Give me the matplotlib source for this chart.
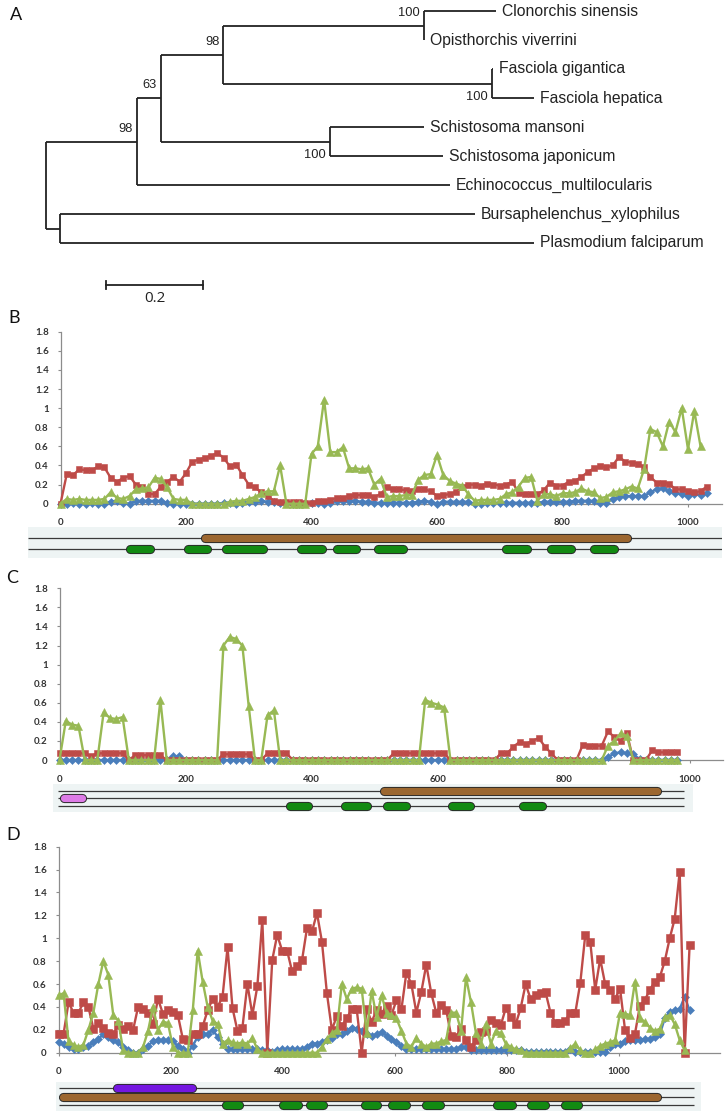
import numpy as np
import matplotlib
matplotlib.use("Agg")
import matplotlib.pyplot as plt
from matplotlib import patheffects as pe

# ---------------- data ----------------
# Panel A: phylogenetic tree (distances from root)
leaf_names = ["Clonorchis sinensis", "Opisthorchis viverrini", "Fasciola gigantica",
              "Fasciola hepatica", "Schistosoma mansoni", "Schistosoma japonicum",
              "Echinococcus_multilocularis", "Bursaphelenchus_xylophilus",
              "Plasmodium falciparum"]
leaf_depth = [0.928, 0.781, 0.922, 1.007, 0.781, 0.820, 0.834, 0.886, 1.007]
node_names = ["CO", "FAS", "U98", "SCH", "N63", "L98", "BP", "ROOT"]
node_depth = [0.780, 0.920, 0.367, 0.586, 0.238, 0.189, 0.030, 0.000]
node_children = [[0, 1], [2, 3], ["CO", "FAS"], [4, 5], ["U98", "SCH"],
                 ["N63", 6], [7, 8], ["L98", "BP"]]
node_support = [100, 100, 98, 100, 63, 98, None, None]
support_side = ["above", "below", "above", "below", "above", "above", None, None]
scale_len = 0.2

# Panel B
red_b = [0.00, 0.31, 0.30, 0.36, 0.35, 0.35, 0.39, 0.38, 0.27, 0.23,
         0.27, 0.29, 0.20, 0.18, 0.10, 0.10, 0.18, 0.23, 0.28, 0.23,
         0.32, 0.44, 0.46, 0.48, 0.50, 0.53, 0.48, 0.39, 0.41, 0.30,
         0.20, 0.17, 0.12, 0.08, 0.03, 0.02, 0.02, 0.02, 0.02, 0.01,
         0.01, 0.03, 0.03, 0.04, 0.06, 0.06, 0.08, 0.09, 0.09, 0.09,
         0.07, 0.10, 0.17, 0.15, 0.15, 0.14, 0.13, 0.15, 0.15, 0.13,
         0.08, 0.09, 0.10, 0.12, 0.17, 0.20, 0.20, 0.19, 0.21, 0.20,
         0.19, 0.20, 0.23, 0.11, 0.10, 0.10, 0.10, 0.14, 0.22, 0.19,
         0.19, 0.23, 0.24, 0.28, 0.33, 0.37, 0.39, 0.38, 0.40, 0.49,
         0.44, 0.43, 0.42, 0.38, 0.28, 0.22, 0.22, 0.21, 0.15, 0.15,
         0.13, 0.12, 0.13, 0.18]
green_b = [0.00, 0.05, 0.04, 0.05, 0.04, 0.04, 0.04, 0.05, 0.12, 0.06,
           0.05, 0.08, 0.15, 0.16, 0.17, 0.27, 0.26, 0.17, 0.05, 0.04,
           0.04, 0.00, 0.00, 0.00, 0.00, 0.00, 0.00, 0.02, 0.03, 0.03,
           0.05, 0.07, 0.11, 0.13, 0.13, 0.40, 0.00, 0.00, 0.00, 0.00,
           0.52, 0.60, 1.09, 0.54, 0.54, 0.59, 0.37, 0.37, 0.36, 0.37,
           0.20, 0.26, 0.07, 0.08, 0.08, 0.09, 0.09, 0.25, 0.30, 0.31,
           0.51, 0.30, 0.24, 0.21, 0.19, 0.10, 0.03, 0.04, 0.04, 0.04,
           0.05, 0.10, 0.12, 0.18, 0.27, 0.28, 0.03, 0.10, 0.10, 0.08,
           0.11, 0.11, 0.12, 0.16, 0.13, 0.12, 0.06, 0.07, 0.12, 0.13,
           0.15, 0.18, 0.16, 0.36, 0.78, 0.75, 0.60, 0.86, 0.75, 1.00,
           0.57, 0.97, 0.60]
blue_b = [0.00, 0.00, 0.01, 0.00, 0.00, 0.01, 0.00, 0.00, 0.02, 0.03,
          0.01, 0.00, 0.03, 0.03, 0.03, 0.03, 0.03, 0.01, 0.00, 0.00,
          0.00, 0.00, 0.00, 0.00, 0.00, 0.00, 0.01, 0.01, 0.00, 0.01,
          0.02, 0.02, 0.03, 0.02, 0.02, 0.01, 0.01, 0.00, 0.00, 0.01,
          0.01, 0.01, 0.00, 0.01, 0.03, 0.03, 0.03, 0.03, 0.02, 0.02,
          0.01, 0.01, 0.01, 0.01, 0.01, 0.01, 0.01, 0.02, 0.03, 0.02,
          0.00, 0.02, 0.02, 0.02, 0.02, 0.02, 0.00, 0.00, 0.01, 0.01,
          0.01, 0.01, 0.01, 0.01, 0.01, 0.01, 0.01, 0.02, 0.02, 0.02,
          0.02, 0.02, 0.03, 0.03, 0.03, 0.03, 0.01, 0.01, 0.05, 0.07,
          0.08, 0.08, 0.08, 0.08, 0.12, 0.15, 0.16, 0.13, 0.11, 0.10,
          0.08, 0.10, 0.09, 0.11]

# Panel C
red_c = [0.07, 0.07, 0.07, 0.07, 0.07, 0.04, 0.07, 0.07, 0.07, 0.07,
         0.07, 0.00, 0.05, 0.05, 0.05, 0.05, 0.05, 0.00, 0.00, 0.00,
         0.00, 0.00, 0.00, 0.00, 0.00, 0.00, 0.06, 0.06, 0.06, 0.06,
         0.06, 0.00, 0.00, 0.07, 0.07, 0.07, 0.07, 0.00, 0.00, 0.00,
         0.00, 0.00, 0.00, 0.00, 0.00, 0.00, 0.00, 0.00, 0.00, 0.00,
         0.00, 0.00, 0.00, 0.07, 0.07, 0.07, 0.07, 0.07, 0.07, 0.07,
         0.07, 0.07, 0.00, 0.00, 0.00, 0.00, 0.00, 0.00, 0.00, 0.00,
         0.07, 0.07, 0.14, 0.19, 0.17, 0.20, 0.23, 0.14, 0.07, 0.00,
         0.00, 0.00, 0.00, 0.16, 0.15, 0.15, 0.15, 0.30, 0.24, 0.20,
         0.28, 0.00, 0.00, 0.00, 0.10, 0.08, 0.08, 0.08, 0.08]
green_c = [0.00, 0.41, 0.37, 0.36, 0.00, 0.00, 0.00, 0.50, 0.44, 0.43,
           0.45, 0.00, 0.00, 0.00, 0.00, 0.00, 0.63, 0.00, 0.00, 0.00,
           0.00, 0.00, 0.00, 0.00, 0.00, 0.00, 1.20, 1.29, 1.27, 1.20,
           0.57, 0.00, 0.00, 0.47, 0.52, 0.00, 0.00, 0.00, 0.00, 0.00,
           0.00, 0.00, 0.00, 0.00, 0.00, 0.00, 0.00, 0.00, 0.00, 0.00,
           0.00, 0.00, 0.00, 0.00, 0.00, 0.00, 0.00, 0.00, 0.63, 0.60,
           0.58, 0.55, 0.00, 0.00, 0.00, 0.00, 0.00, 0.00, 0.00, 0.00,
           0.00, 0.00, 0.00, 0.00, 0.00, 0.00, 0.00, 0.00, 0.00, 0.00,
           0.00, 0.00, 0.00, 0.00, 0.00, 0.00, 0.00, 0.15, 0.20, 0.28,
           0.25, 0.00, 0.00, 0.00, 0.00, 0.00, 0.00, 0.00, 0.00]
blue_c = [0.00, 0.00, 0.00, 0.00, 0.00, 0.00, 0.00, 0.00, 0.00, 0.00,
          0.00, 0.00, 0.00, 0.00, 0.00, 0.00, 0.00, 0.00, 0.04, 0.04,
          0.00, 0.00, 0.00, 0.00, 0.00, 0.00, 0.00, 0.00, 0.00, 0.00,
          0.00, 0.00, 0.00, 0.00, 0.00, 0.00, 0.00, 0.00, 0.00, 0.00,
          0.00, 0.00, 0.00, 0.00, 0.00, 0.00, 0.00, 0.00, 0.00, 0.00,
          0.00, 0.00, 0.00, 0.00, 0.00, 0.00, 0.00, 0.00, 0.00, 0.00,
          0.00, 0.00, 0.00, 0.00, 0.00, 0.00, 0.00, 0.00, 0.00, 0.00,
          0.00, 0.00, 0.00, 0.00, 0.00, 0.00, 0.00, 0.00, 0.00, 0.00,
          0.00, 0.00, 0.00, 0.00, 0.00, 0.00, 0.00, 0.03, 0.07, 0.08,
          0.07, 0.06, 0.01, 0.00, 0.00, 0.00, 0.00, 0.00, 0.00]

# Panel D
red_d = [0.165, 0.165, 0.44, 0.35, 0.35, 0.44, 0.40, 0.21, 0.26, 0.22,
         0.17, 0.16, 0.24, 0.21, 0.23, 0.20, 0.40, 0.38, 0.35, 0.25,
         0.47, 0.34, 0.37, 0.36, 0.33, 0.12, 0.11, 0.165, 0.165, 0.23,
         0.37, 0.47, 0.40, 0.49, 0.92, 0.39, 0.19, 0.22, 0.60, 0.33,
         0.58, 1.16, 0.00, 0.81, 1.03, 0.89, 0.89, 0.71, 0.76, 0.81,
         1.09, 1.06, 1.22, 0.97, 0.52, 0.20, 0.32, 0.23, 0.30,
         0.38, 0.38, 0.00, 0.38, 0.27, 0.37, 0.34, 0.41, 0.33, 0.46,
         0.38, 0.70, 0.60, 0.35, 0.53, 0.77, 0.52, 0.35, 0.42, 0.375,
         0.15, 0.14, 0.21, 0.11, 0.05, 0.11, 0.18, 0.19, 0.29, 0.26,
         0.24, 0.39, 0.31, 0.25, 0.39, 0.60, 0.47, 0.50, 0.52, 0.53,
         0.35, 0.26, 0.26, 0.28, 0.35, 0.35, 0.61, 1.03, 0.97, 0.55,
         0.82, 0.60, 0.55, 0.47, 0.56, 0.20, 0.13, 0.165, 0.41, 0.46,
         0.55, 0.62, 0.66, 0.80, 1.00, 1.17, 1.58, 0.00, 0.94]
green_d = [0.50, 0.52, 0.10, 0.07, 0.05, 0.07, 0.20, 0.35, 0.60, 0.80,
           0.68, 0.33, 0.28, 0.02, 0.00, 0.00, 0.00, 0.05, 0.19, 0.40,
           0.20, 0.27, 0.26, 0.05, 0.00, 0.00, 0.00, 0.37, 0.89, 0.62,
           0.40, 0.28, 0.25, 0.08, 0.11, 0.09, 0.08, 0.09, 0.08, 0.13,
           0.03, 0.00, 0.00, 0.00, 0.00, 0.00, 0.00, 0.00, 0.00, 0.00,
           0.00, 0.00, 0.00, 0.05, 0.12, 0.17, 0.20, 0.60, 0.47, 0.56,
           0.57, 0.56, 0.17, 0.54, 0.31, 0.50, 0.35, 0.33, 0.30, 0.19,
           0.08, 0.05, 0.13, 0.08, 0.05, 0.08, 0.08, 0.10, 0.11, 0.35,
           0.35, 0.19, 0.66, 0.44, 0.17, 0.08, 0.25, 0.08, 0.19, 0.17,
           0.08, 0.05, 0.03, 0.02, 0.00, 0.00, 0.00, 0.00, 0.00, 0.00,
           0.00, 0.00, 0.00, 0.04, 0.08, 0.02, 0.00, 0.00, 0.03, 0.06,
           0.08, 0.09, 0.11, 0.35, 0.34, 0.33, 0.62, 0.30, 0.27, 0.22,
           0.19, 0.21, 0.31, 0.33, 0.25, 0.11, 0.02]
blue_d = [0.09, 0.08, 0.05, 0.03, 0.03, 0.05, 0.06, 0.09, 0.12, 0.16,
          0.14, 0.11, 0.09, 0.05, 0.02, 0.00, 0.00, 0.03, 0.06, 0.10,
          0.11, 0.11, 0.11, 0.10, 0.06, 0.03, 0.00, 0.06, 0.14, 0.16,
          0.165, 0.20, 0.14, 0.08, 0.03, 0.03, 0.03, 0.03, 0.03, 0.03,
          0.03, 0.02, 0.02, 0.01, 0.02, 0.03, 0.03, 0.03, 0.03, 0.03,
          0.05, 0.08, 0.08, 0.09, 0.11, 0.13, 0.16, 0.16, 0.19, 0.22,
          0.21, 0.19, 0.16, 0.15, 0.16, 0.18, 0.15, 0.12, 0.09, 0.06,
          0.03, 0.03, 0.03, 0.03, 0.03, 0.03, 0.03, 0.03, 0.03, 0.03,
          0.03, 0.05, 0.05, 0.02, 0.02, 0.02, 0.02, 0.02, 0.02, 0.02,
          0.02, 0.02, 0.02, 0.02, 0.01, 0.01, 0.01, 0.01, 0.01, 0.01,
          0.01, 0.01, 0.01, 0.03, 0.01, 0.01, 0.01, 0.01, 0.01, 0.01,
          0.01, 0.05, 0.08, 0.08, 0.10, 0.11, 0.11, 0.11, 0.12, 0.12,
          0.14, 0.16, 0.30, 0.36, 0.37, 0.38, 0.49, 0.37]

# Domain architecture (residue ranges)
dom_b_brown = [(224, 910)]
dom_b_green = [(104, 149), (197, 241), (257, 329), (377, 424), (434, 477),
               (499, 552), (703, 751), (775, 821), (843, 889)]
dom_c_brown = [(508, 955)]
dom_c_pink = [(0, 42)]
dom_c_green = [(359, 401), (446, 494), (513, 556), (616, 658), (729, 772)]
dom_c_len = (-2, 991)
dom_d_purple = [(96, 245)]
dom_d_brown = [(0, 1075)]
dom_d_green = [(291, 330), (393, 434), (441, 480), (539, 575), (587, 627),
               (648, 688), (775, 816), (836, 875), (896, 934)]
dom_d_len = (0, 1134)

x_ticks = [0, 200, 400, 600, 800, 1000]
y_ticks = [0, 0.2, 0.4, 0.6, 0.8, 1.0, 1.2, 1.4, 1.6, 1.8]

# ---------------- style ----------------
BLUE = "#4A7EBB"
RED = "#BE4B48"
GREEN = "#98B954"
BROWN = "#9C6730"
DGREEN = "#128A12"
PINK = "#DD7BE6"
PURPLE = "#7417E0"
BOXBG = "#EEF4F4"

W, H = 727, 1114
fig = plt.figure(figsize=(W / 100, H / 100), dpi=100)


def px_axes(left, top, right, bottom):
    return fig.add_axes([left / W, 1 - bottom / H, (right - left) / W, (bottom - top) / H])


def panel_label(txt, x, y):
    fig.text(x / W, 1 - y / H, txt, fontsize=13, family="Lato", ha="left", va="center",
             color="#111111")


# ---------------- Panel A: tree ----------------
PXU = 485.0          # px per distance unit
X0 = 45.5            # root px
Y0, DY = 11.0, 29.0  # leaf row px
axT = px_axes(0, 0, W, 320)
axT.set_xlim(-X0 / PXU, (W - X0) / PXU)
axT.set_ylim((320 - Y0) / DY, -Y0 / DY)
axT.axis("off")

pos = {}
for i, d in enumerate(leaf_depth):
    pos[i] = (d, float(i))
for name, d, ch in zip(node_names, node_depth, node_children):
    ys = [pos[c][1] for c in ch]
    pos[name] = (d, (min(ys) + max(ys)) / 2)
lkw = dict(color="#222222", lw=1.3, solid_capstyle="butt")
for name, d, ch, sup, side in zip(node_names, node_depth, node_children,
                                  node_support, support_side):
    ys = [pos[c][1] for c in ch]
    axT.plot([d, d], [min(ys), max(ys)], **lkw)
    for c in ch:
        axT.plot([d, pos[c][0]], [pos[c][1], pos[c][1]], **lkw)
    if sup is not None:
        dy = -12.5 / DY if side == "above" else 13 / DY
        axT.text(d - 4 / PXU, pos[name][1] + dy, str(sup), ha="right", va="center",
                 fontsize=9.3, family="Liberation Sans", color="#222222")
for i, name in enumerate(leaf_names):
    axT.text(leaf_depth[i] + 6 / PXU, i, name, ha="left", va="center",
             fontsize=11.3, family="Liberation Sans", color="#222222")
# scale bar
sb_x0 = (106 - X0) / PXU
sb_y = (285 - Y0) / DY
axT.plot([sb_x0, sb_x0 + scale_len], [sb_y, sb_y], color="#222222", lw=1.3)
for xx in (sb_x0, sb_x0 + scale_len):
    axT.plot([xx, xx], [sb_y - 4 / DY, sb_y + 4 / DY], color="#222222", lw=1.3)
axT.text(sb_x0 + scale_len / 2, (299 - Y0) / DY, str(scale_len), ha="center",
         va="center", fontsize=11, family="Open Sans", color="#222222")
panel_label("A", 10, 15)


# ---------------- chart helper ----------------
def chart(box, xmax, x, blue, red, green, ms=(3.6, 4.4, 5.2)):
    left, top, right, bottom = box
    ax = px_axes(left, top, right, bottom)
    ax.plot(x[:len(blue)], blue, color=BLUE, lw=1.7, marker="D", ms=ms[0],
            mec=BLUE, mew=0.4, clip_on=False, zorder=3)
    ax.plot(x[:len(red)], red, color=RED, lw=1.7, marker="s", ms=ms[1],
            mec=RED, mew=0.4, clip_on=False, zorder=4)
    ax.plot(x[:len(green)], green, color=GREEN, lw=1.7, marker="^", ms=ms[2],
            mec=GREEN, mew=0.4, clip_on=False, zorder=5)
    ax.set_xlim(0, xmax)
    ax.set_ylim(0, 1.8)
    for s in ("top", "right"):
        ax.spines[s].set_visible(False)
    for s in ("left", "bottom"):
        ax.spines[s].set_color("#8C8C8C")
        ax.spines[s].set_linewidth(0.9)
    ax.set_yticks(y_ticks)
    ax.set_yticklabels([f"{v:g}" for v in y_ticks])
    ax.set_xticks(x_ticks)
    ax.set_xticklabels([str(v) for v in x_ticks])
    ax.tick_params(axis="y", length=2.5, width=0.8, color="#8C8C8C", pad=6,
                   labelsize=7, labelcolor="#333333")
    ax.tick_params(axis="x", length=2.5, width=0.8, color="#8C8C8C", pad=8,
                   labelsize=7, labelcolor="#333333")
    for lab in ax.get_xticklabels() + ax.get_yticklabels():
        lab.set_family("Lato")
        lab.set_fontweight("bold")
    ax.set_facecolor("none")
    return ax


def domains(box, xlim, rows, line_range=None):
    """rows: list of (y_px, [(start, end), ...], color)"""
    left, top, right, bottom = box
    ax = px_axes(left, top, right, bottom)
    ax.set_xlim(*xlim)
    ax.set_ylim(bottom, top)
    ax.set_facecolor(BOXBG)
    for s in ax.spines.values():
        s.set_visible(False)
    ax.set_xticks([])
    ax.set_yticks([])
    lr = line_range if line_range is not None else xlim
    px_per_unit = (right - left) / (xlim[1] - xlim[0])
    lw_pt = 5.2
    r_units = (lw_pt * 100 / 72 / 2 + 0.7) / px_per_unit
    for y, segs, col in rows:
        ax.plot(lr, [y, y], color="#3A3A3A", lw=0.9, zorder=1, solid_capstyle="butt")
        for s, e in segs:
            ax.plot([s + r_units, e - r_units], [y, y], color=col, lw=lw_pt,
                    solid_capstyle="round", zorder=2,
                    path_effects=[pe.Stroke(linewidth=lw_pt + 1.4, foreground="#2A2A2A",
                                            capstyle="round"), pe.Normal()])
    return ax


# ---------------- Panel B ----------------
bx0, bsc = 60.5, 0.6275
xB = np.arange(0, 1040, 10)
chart((bx0, 331.7, 722, 503.7), (722 - bx0) / bsc, xB, blue_b, red_b, green_b,
      ms=(3.8, 5.0, 5.5))
domains((28, 527, 722, 558), ((28 - bx0) / bsc, (722 - bx0) / bsc),
        [(538, dom_b_brown, BROWN), (549, dom_b_green, DGREEN)])
panel_label("B", 8, 318)

# ---------------- Panel C ----------------
cx0, csc = 59.5, 0.6305
xC = np.arange(0, 990, 10)
chart((cx0, 588.3, 723, 760), (723 - cx0) / csc, xC, blue_c, red_c, green_c,
      ms=(3.8, 5.0, 5.5))
domains((53, 784, 693, 812), ((53 - cx0) / csc, (693 - cx0) / csc),
        [(791, dom_c_brown, BROWN), (798, dom_c_pink, PINK), (806, dom_c_green, DGREEN)],
        line_range=dom_c_len)
panel_label("C", 6, 578)

# ---------------- Panel D ----------------
dx0, dsc = 58.6, 0.5604
xD = np.linspace(0, 1126, 128)
chart((dx0, 846.7, 720, 1052.7), (720 - dx0) / dsc, xD, blue_d, red_d, green_d,
      ms=(3.8, 5.4, 5.6))
domains((56, 1082, 701, 1111), ((56 - dx0) / dsc, (701 - dx0) / dsc),
        [(1088, dom_d_purple, PURPLE), (1097, dom_d_brown, BROWN), (1105, dom_d_green, DGREEN)],
        line_range=dom_d_len)
panel_label("D", 6, 835)

fig.savefig("out.png", dpi=100, facecolor="white")
